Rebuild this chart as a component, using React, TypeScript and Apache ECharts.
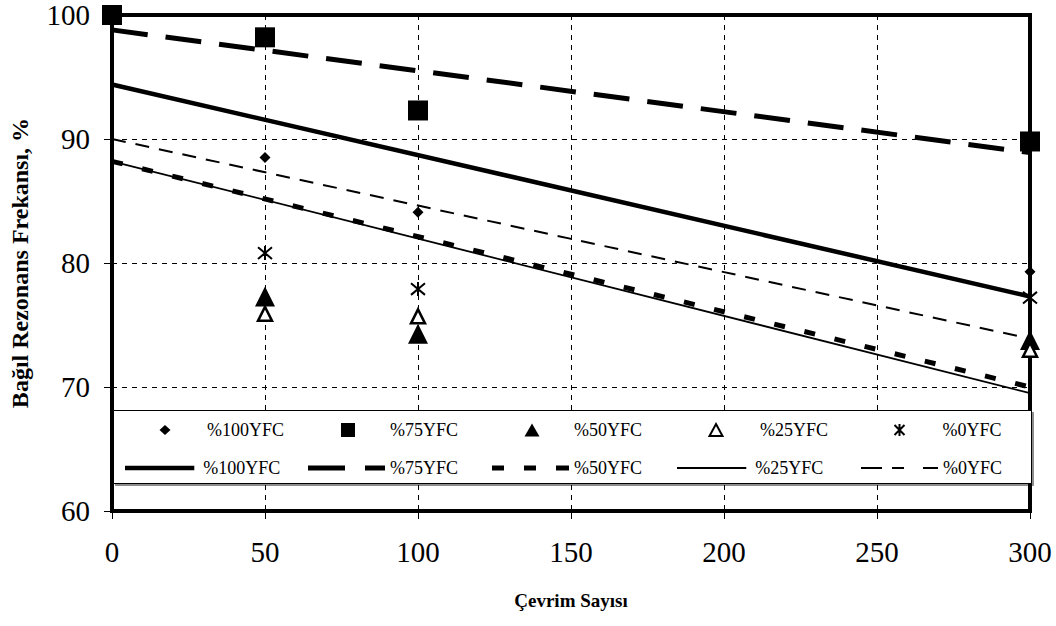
import React, { useEffect, useRef } from "react";
import * as echarts from "echarts";

const cycles = [0, 50, 100, 300];
const yfc100 = [100, 88.5, 84.1, 79.3];
const yfc75 = [100, 98.2, 92.3, 89.8];
const yfc50 = [100, 77.3, 74.3, 73.8];
const yfc25 = [100, 75.9, 75.7, 73.0];
const yfc0 = [100, 80.8, 77.9, 77.2];

const trendX = [0, 300];
const trend100 = [94.4, 77.3];
const trend75 = [98.8, 88.9];
const trend50 = [88.2, 70.0];
const trend25 = [88.2, 69.5];
const trend0 = [90.0, 73.9];

const labels = ["%100YFC", "%75YFC", "%50YFC", "%25YFC", "%0YFC"];
const xTicks = { min: 0, max: 300, interval: 50 };
const yTicks = { min: 60, max: 100, interval: 10 };

const FONT = "Liberation Serif";

const pts = (ys: number[]) => cycles.map((x, i) => [x, ys[i]]);
const tl = (ys: number[]) => trendX.map((x, i) => [x, ys[i]]);

const asterisk = "path://M0,0L10,10M10,0L0,10M5,-1L5,11";

export default function App() {
  const ref = useRef<HTMLDivElement>(null);
  useEffect(() => {
    if (!ref.current) return;
    const chart = echarts.init(ref.current, undefined, { renderer: "svg" });

    const lineDefs = [
      { name: "L100", data: tl(trend100), width: 4.5, type: "solid" as any, icon: "path://M0,0h77v5h-77z", h: 4.5 },
      { name: "L75", data: tl(trend75), width: 5, type: [36, 18] as any, icon: "path://M0,0h37v5h-37z M57,0h20v5h-20z", h: 5 },
      { name: "L50", data: tl(trend50), width: 5, type: [11, 20] as any, icon: "path://M0,0h12v5h-12z M32,0h12v5h-12z M64,0h13v5h-13z", h: 5 },
      { name: "L25", data: tl(trend25), width: 1.8, type: "solid" as any, icon: "path://M0,0h77v2h-77z", h: 1.8 },
      { name: "L0", data: tl(trend0), width: 2, type: [14, 10] as any, icon: "path://M0,0h21v2h-21z M31,0h12v2h-12z M62,0h15v2h-15z", h: 2 },
    ];
    const lineSeries = lineDefs.map((s) => ({
      type: "line",
      name: s.name,
      data: s.data,
      symbol: "none",
      showSymbol: false,
      silent: true,
      z: 2,
      lineStyle: { color: "#000", width: s.width, type: s.type },
      itemStyle: { color: "#000" },
    }));

    const scatterDefs = [
      { name: labels[0], data: pts(yfc100), symbol: "diamond", size: 11, z: 3, item: { color: "#000", opacity: 1 } },
      { name: labels[1], data: pts(yfc75), symbol: "rect", size: 20, z: 6, item: { color: "#000", opacity: 1 } },
      { name: labels[2], data: pts(yfc50), symbol: "triangle", size: 20, z: 3, item: { color: "#000", opacity: 1 } },
      { name: labels[3], data: pts(yfc25), symbol: "triangle", size: 14, z: 3, item: { color: "#fff", borderColor: "#000", borderWidth: 2.5, opacity: 1 } },
      { name: labels[4], data: pts(yfc0), symbol: asterisk, size: 14, z: 3, item: { color: "rgba(0,0,0,0)", borderColor: "#000", borderWidth: 2, opacity: 1 } },
    ];
    const scatterSeries = scatterDefs.map((s) => ({
      type: "scatter",
      name: s.name,
      data: s.data,
      symbol: s.symbol,
      symbolSize: s.size,
      clip: false,
      z: s.z,
      itemStyle: s.item,
    }));

    const colLeft = [125, 308, 492, 677, 861];
    const textX = [207, 390, 574, 759, 943];
    const markerX = [165, 348, 532, 715, 900];
    const markerW = [11, 14, 15, 13, 13];
    const markerH = [10, 14, 13, 12, 12];
    const legends: any[] = [];
    labels.forEach((lab, i) => {
      const ml = markerX[i] - markerW[i] / 2;
      legends.push({
        data: [lab],
        left: ml,
        top: 421,
        itemWidth: markerW[i],
        itemHeight: markerH[i],
        padding: 0,
        selectedMode: false,
        z: 5,
        formatter: () => lab,
        textStyle: {
          fontFamily: FONT,
          fontSize: 18,
          color: "#000",
          padding: [0, 0, 0, textX[i] - ml - markerW[i] - 5],
        },
      });
      legends.push({
        data: [lineDefs[i].name],
        left: colLeft[i],
        top: 459,
        itemWidth: 77,
        itemHeight: lineDefs[i].h,
        icon: lineDefs[i].icon,
        padding: 0,
        selectedMode: false,
        z: 5,
        formatter: () => lab,
        textStyle: { fontFamily: FONT, fontSize: 18, color: "#000" },
      });
    });

    chart.setOption({
      animation: false,
      backgroundColor: "#fff",
      grid: {
        left: 109,
        right: 26,
        top: 15,
        bottom: 115,
        show: true,
        borderColor: "#000",
        borderWidth: 4,
        backgroundColor: "transparent",
      },
      legend: legends,
      graphic: [
        {
          type: "rect",
          left: 113,
          top: 410,
          z: 4,
          shape: { width: 918, height: 73 },
          style: {
            fill: "#fff",
            stroke: "#000",
            lineWidth: 1,
            shadowColor: "rgba(0,0,0,0.45)",
            shadowOffsetX: 2,
            shadowOffsetY: 2,
            shadowBlur: 0,
          },
        },
      ],
      xAxis: {
        type: "value",
        min: xTicks.min,
        max: xTicks.max,
        interval: xTicks.interval,
        name: "Çevrim Sayısı",
        nameLocation: "middle",
        nameGap: 80,
        nameTextStyle: { fontFamily: FONT, fontSize: 19, fontWeight: "bold", color: "#000" },
        axisLine: { show: false },
        axisTick: { show: true, inside: false, length: 8, lineStyle: { color: "#000", width: 1 } },
        axisLabel: { fontFamily: FONT, fontSize: 29, color: "#000", margin: 26 },
        splitLine: { show: true, lineStyle: { color: "#000", width: 1, type: [5, 5] } },
      },
      yAxis: {
        type: "value",
        min: yTicks.min,
        max: yTicks.max,
        interval: yTicks.interval,
        name: "Bağıl Rezonans Frekansı, %",
        nameLocation: "middle",
        nameGap: 80,
        nameRotate: 90,
        nameTextStyle: { fontFamily: FONT, fontSize: 24, fontWeight: "bold", color: "#000" },
        axisLine: { show: false },
        axisTick: { show: true, inside: false, length: 8, lineStyle: { color: "#000", width: 1 } },
        axisLabel: { fontFamily: FONT, fontSize: 29, color: "#000", margin: 22 },
        splitLine: { show: true, lineStyle: { color: "#000", width: 1, type: [5, 5] } },
      },
      series: [...lineSeries, ...scatterSeries],
    });
    return () => chart.dispose();
  }, []);
  return (
    <div
      ref={ref}
      style={{ position: "fixed", left: 0, top: 0, width: 1056, height: 626, background: "#fff" }}
    />
  );
}
